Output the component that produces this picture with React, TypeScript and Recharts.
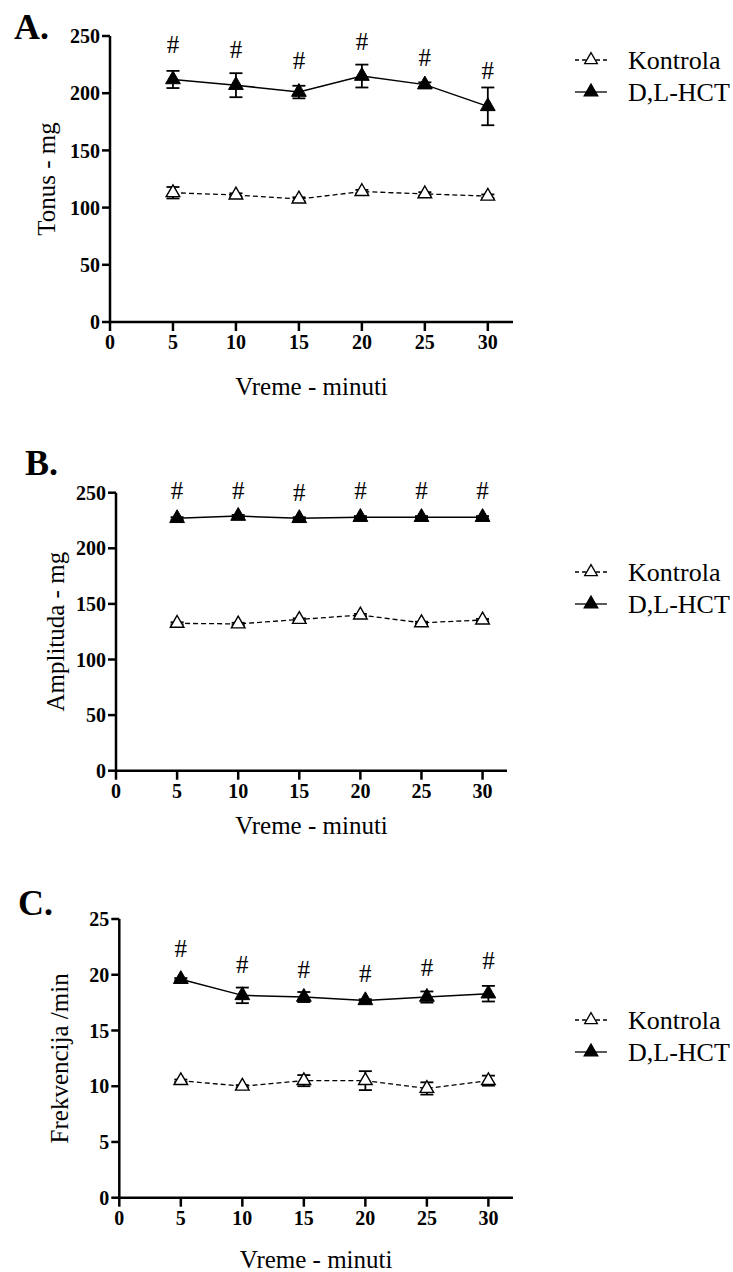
import React from 'react';
import { ComposedChart, Line, Scatter, XAxis, YAxis, ErrorBar, Legend, Symbols } from 'recharts';

const FONT = 'Liberation Serif';

// ---- shared axis data ----
const minutes = [5, 10, 15, 20, 25, 30];
const xTicks = [0, 5, 10, 15, 20, 25, 30];
const xTitle = 'Vreme - minuti';
const kontrolaName = 'Kontrola';
const hctName = 'D,L-HCT';

// ---- Panel A: Tonus ----
const tonusKontrola = [113, 111, 107.5, 114, 112, 110];
const tonusKontrolaErr = [5, 1.5, 1.5, 1.5, 1.5, 1.5];
const tonusHct = [212, 207, 201, 215, 207.5, 188.5];
const tonusHctErr = [7.5, 10.5, 5.5, 10, 2, 16.5];
const tonusSig = [235, 231, 221, 237.5, 224, 212.5];
const tonusTicks = [0, 50, 100, 150, 200, 250];

// ---- Panel B: Amplituda ----
const amplKontrola = [132.5, 132, 136, 140, 133, 135.5];
const amplKontrolaErr = [1, 1, 1, 1, 1, 1];
const amplHct = [227, 229, 227, 228, 228, 228];
const amplHctErr = [1, 1, 1, 1, 1, 1];
const amplSig = [244, 244, 242.5, 244, 244, 244];
const amplTicks = [0, 50, 100, 150, 200, 250];

// ---- Panel C: Frekvencija ----
const frekKontrola = [10.5, 10.0, 10.5, 10.5, 9.8, 10.5];
const frekKontrolaErr = [0.1, 0.1, 0.5, 0.85, 0.55, 0.45];
const frekHct = [19.6, 18.15, 18.0, 17.7, 18.0, 18.3];
const frekHctErr = [0.1, 0.7, 0.45, 0.1, 0.5, 0.7];
const frekSig = [21.6, 20.2, 19.7, 19.35, 19.85, 20.55];
const frekTicks = [0, 5, 10, 15, 20, 25];

const axisStroke = { stroke: '#000', strokeWidth: 2.5 };

const XTick = (props: any) => (
  <text x={props.x} y={props.y} dy="0.71em" textAnchor="middle" fontFamily={FONT} fontWeight="bold" fontSize={20} fill="#000">
    {props.payload.value}
  </text>
);
const YTick = (props: any) => (
  <text x={props.x} y={props.y} dy="0.355em" textAnchor="end" fontFamily={FONT} fontWeight="bold" fontSize={20} fill="#000">
    {props.payload.value}
  </text>
);

const XTitle = (props: any) => {
  const vb = props.viewBox;
  if (!vb) return null;
  return (
    <text x={vb.x + vb.width / 2} y={vb.y + vb.height} textAnchor="middle" fontFamily={FONT} fontSize={25} fill="#000">
      {props.text}
    </text>
  );
};
const YTitle = (props: any) => {
  const vb = props.viewBox;
  if (!vb) return null;
  const x = vb.x + props.shift;
  const y = vb.y + vb.height / 2;
  return (
    <text x={x} y={y} dy="0.33em" transform={`rotate(-90 ${x} ${y})`} textAnchor="middle" fontFamily={FONT} fontSize={25} fill="#000">
      {props.text}
    </text>
  );
};

const openTri = (props: any) => (
  <Symbols key={`o${props.index}`} type="triangle" size={80} cx={props.cx} cy={props.cy} fill="#fff" stroke="#000" strokeWidth={1.4} />
);
const filledTri = (props: any) => (
  <Symbols key={`f${props.index}`} type="triangle" size={95} cx={props.cx} cy={props.cy} fill="#000" stroke="#000" strokeWidth={1} />
);
const sigShape = (props: any) => (
  <text x={props.cx} y={props.cy} textAnchor="middle" fontFamily={FONT} fontSize={25} fill="#000">#</text>
);

const legendOrder = ['kontrola', 'hct'];

const LegendContent = (props: any) => {
  const items = legendOrder
    .map((k) => (props.payload || []).find((e: any) => e.dataKey === k))
    .filter(Boolean);
  return (
    <svg width={160} height={64} style={{ display: 'block' }}>
      {items.map((e: any, i: number) => {
        const open = e.dataKey === 'kontrola';
        const cy = 16 + i * 32;
        return (
          <g key={e.dataKey}>
            <line x1={0} x2={32} y1={cy} y2={cy} stroke="#000" strokeWidth={1.3} strokeDasharray={open ? '4 3' : undefined} />
            <Symbols type="triangle" size={open ? 70 : 80} cx={16} cy={cy} fill={open ? '#fff' : '#000'} stroke="#000" strokeWidth={1.3} />
            <text x={53} y={cy} dy="0.35em" fontFamily={FONT} fontSize={26} fill="#000">{e.value}</text>
          </g>
        );
      })}
    </svg>
  );
};

type PanelProps = {
  top: number;
  height: number;
  margin: { top: number; right: number; bottom: number; left: number };
  xAxisHeight: number;
  yLabelShift: number;
  legendTop: number;
  yTitle: string;
  yMax: number;
  yTicks: number[];
  kontrola: number[];
  kontrolaErr: number[];
  hct: number[];
  hctErr: number[];
  sig: number[];
};

function Panel(p: PanelProps) {
  const data = minutes.map((t, i) => ({
    t,
    kontrola: p.kontrola[i],
    kontrolaErr: p.kontrolaErr[i],
    hct: p.hct[i],
    hctErr: p.hctErr[i],
    sig: p.sig[i],
  }));
  return (
    <div style={{ position: 'absolute', left: 0, top: p.top, width: 733, height: p.height }}>
      <ComposedChart width={733} height={p.height} data={data} margin={p.margin}>
        <XAxis
          dataKey="t"
          type="number"
          domain={[0, 32]}
          ticks={xTicks}
          interval={0}
          axisLine={axisStroke}
          tickLine={axisStroke}
          tickSize={9}
          tickMargin={4}
          tick={XTick}
          height={p.xAxisHeight}
          label={<XTitle text={xTitle} />}
        />
        <YAxis
          type="number"
          domain={[0, p.yMax]}
          ticks={p.yTicks}
          interval={0}
          width={70}
          axisLine={axisStroke}
          tickLine={axisStroke}
          tickSize={8}
          tickMargin={2}
          tick={YTick}
          label={<YTitle text={p.yTitle} shift={p.yLabelShift} />}
        />
        <Legend
          layout="vertical"
          align="center"
          verticalAlign="middle"
          content={LegendContent}
          wrapperStyle={{ left: 575, top: p.legendTop, width: 'auto', height: 'auto' }}
        />
        <Line
          dataKey="kontrola"
          name={kontrolaName}
          stroke="#000"
          strokeWidth={1.3}
          strokeDasharray="5 3"
          dot={openTri}
          activeDot={false}
          isAnimationActive={false}
        >
          <ErrorBar dataKey="kontrolaErr" width={6.5} stroke="#000" strokeWidth={1.8} direction="y" />
        </Line>
        <Line
          dataKey="hct"
          name={hctName}
          stroke="#000"
          strokeWidth={1.5}
          dot={filledTri}
          activeDot={false}
          isAnimationActive={false}
        >
          <ErrorBar dataKey="hctErr" width={6.5} stroke="#000" strokeWidth={1.8} direction="y" />
        </Line>
        <Scatter dataKey="sig" shape={sigShape} legendType="none" isAnimationActive={false} />
      </ComposedChart>
    </div>
  );
}

export default function App() {
  return (
    <div style={{ position: 'absolute', left: 0, top: 0, width: 733, height: 1272, background: '#fff' }}>
      <Panel
        top={0}
        height={400}
        margin={{ top: 36, right: 220, bottom: 5, left: 40 }}
        xAxisHeight={73}
        yLabelShift={7}
        legendTop={44}
        yTitle="Tonus - mg"
        yMax={250}
        yTicks={tonusTicks}
        kontrola={tonusKontrola}
        kontrolaErr={tonusKontrolaErr}
        hct={tonusHct}
        hctErr={tonusHctErr}
        sig={tonusSig}
      />
      <Panel
        top={420}
        height={420}
        margin={{ top: 72.7, right: 226, bottom: 6.3, left: 46 }}
        xAxisHeight={63}
        yLabelShift={10}
        legendTop={136}
        yTitle="Amplituda - mg"
        yMax={250}
        yTicks={amplTicks}
        kontrola={amplKontrola}
        kontrolaErr={amplKontrolaErr}
        hct={amplHct}
        hctErr={amplHctErr}
        sig={amplSig}
      />
      <Panel
        top={840}
        height={432}
        margin={{ top: 79, right: 220, bottom: 4, left: 49.3 }}
        xAxisHeight={70.3}
        yLabelShift={10.7}
        legendTop={164}
        yTitle="Frekvencija /min"
        yMax={25}
        yTicks={frekTicks}
        kontrola={frekKontrola}
        kontrolaErr={frekKontrolaErr}
        hct={frekHct}
        hctErr={frekHctErr}
        sig={frekSig}
      />
      <svg width={733} height={1272} style={{ position: 'absolute', left: 0, top: 0, pointerEvents: 'none' }}>
        <text x={14} y={39} fontFamily={FONT} fontWeight="bold" fontSize={36} fill="#000">A.</text>
        <text x={25} y={475} fontFamily={FONT} fontWeight="bold" fontSize={36} fill="#000">B.</text>
        <text x={18} y={915} fontFamily={FONT} fontWeight="bold" fontSize={36} fill="#000">C.</text>
      </svg>
    </div>
  );
}
